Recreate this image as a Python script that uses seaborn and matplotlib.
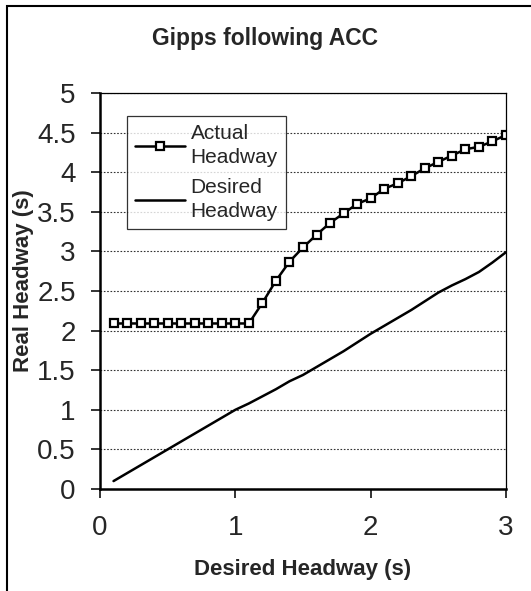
import numpy as np
import pandas as pd
from matplotlib import pyplot as plt
from matplotlib.patches import Rectangle
import seaborn as sns

desired_x = [0.1, 0.2, 0.3, 0.4, 0.5, 0.6, 0.7, 0.8, 0.9, 1.0,
             1.1, 1.2, 1.3, 1.4, 1.5, 1.6, 1.7, 1.8, 1.9, 2.0,
             2.1, 2.2, 2.3, 2.4, 2.5, 2.6, 2.7, 2.8, 2.9, 3.0]
actual_headway = [2.09, 2.09, 2.09, 2.09, 2.09, 2.09, 2.09, 2.09, 2.09, 2.09,
                  2.09, 2.35, 2.63, 2.87, 3.05, 3.21, 3.36, 3.48, 3.60, 3.67,
                  3.79, 3.86, 3.95, 4.05, 4.13, 4.21, 4.29, 4.32, 4.39, 4.47]
desired_headway = [0.10, 0.20, 0.30, 0.40, 0.50, 0.60, 0.70, 0.80, 0.90, 1.00,
                   1.08, 1.17, 1.26, 1.36, 1.44, 1.54, 1.64, 1.74, 1.85, 1.96,
                   2.06, 2.16, 2.26, 2.37, 2.48, 2.57, 2.65, 2.74, 2.86, 2.99]

df = pd.DataFrame({'x': desired_x, 'actual': actual_headway, 'desired': desired_headway})

sns.set_style('white')
plt.rcParams['font.family'] = ['Liberation Sans', 'DejaVu Sans']

W, H = 531, 591
fig = plt.figure(figsize=(W / 100, H / 100), dpi=100)
# axes box in pixels: left 100, right 506, top 93, bottom 489
ax = fig.add_axes([100 / W, 1 - 489 / H, 406 / W, 396 / H])

sns.lineplot(data=df, x='x', y='actual', ax=ax, color='black', linewidth=1.8,
             marker='s', markersize=5.5, markerfacecolor='white',
             markeredgecolor='black', markeredgewidth=1.6, label='Actual\nHeadway')
sns.lineplot(data=df, x='x', y='desired', ax=ax, color='black', linewidth=1.8,
             label='Desired\nHeadway')

ax.set_xlim(0, 3)
ax.set_ylim(0, 5)
ax.set_xticks([0, 1, 2, 3])
ax.set_yticks(np.arange(0, 5.01, 0.5))
ax.set_yticklabels(['0', '0.5', '1', '1.5', '2', '2.5', '3', '3.5', '4', '4.5', '5'])
ax.yaxis.grid(True, linestyle=(0, (1.5, 1.5)), color='#333333', linewidth=0.8)
ax.xaxis.grid(False)
ax.set_axisbelow(True)

for s in ['left', 'bottom']:
    ax.spines[s].set_linewidth(1.8)
    ax.spines[s].set_color('black')
for s in ['top', 'right']:
    ax.spines[s].set_linewidth(0.9)
    ax.spines[s].set_color('black')

ax.tick_params(axis='both', which='major', direction='out', length=6.5, width=1.4,
               labelsize=20, color='#333333', left=True, bottom=True)
ax.tick_params(axis='x', pad=12)
ax.tick_params(axis='y', pad=11)

ax.set_xlabel('Desired Headway (s)', fontsize=16, fontweight='bold', labelpad=13)
ax.set_ylabel('Real Headway (s)', fontsize=16, fontweight='bold')
ax.yaxis.set_label_coords(-0.163, 0.525)
fig.text(0.5, 1 - 38 / H, 'Gipps following ACC', ha='center', va='center',
         fontsize=16.5, fontweight='bold')

leg = ax.legend(loc='upper left', bbox_to_anchor=(0.0665, 0.942), borderaxespad=0,
                fontsize=15, frameon=True, fancybox=False, edgecolor='black',
                handlelength=2.4, handletextpad=0.25, labelspacing=0.55, borderpad=0.4)
leg.get_frame().set_linewidth(0.9)
for t in leg.get_texts():
    t.set_linespacing(1.3)

# outer chart border (left and top visible)
fig.patches.append(Rectangle((7 / W, -0.1), 1.2, 1 - 6 / H + 0.1, transform=fig.transFigure,
                             fill=False, edgecolor='black', linewidth=1.5))

fig.savefig('out.png', dpi=100)
